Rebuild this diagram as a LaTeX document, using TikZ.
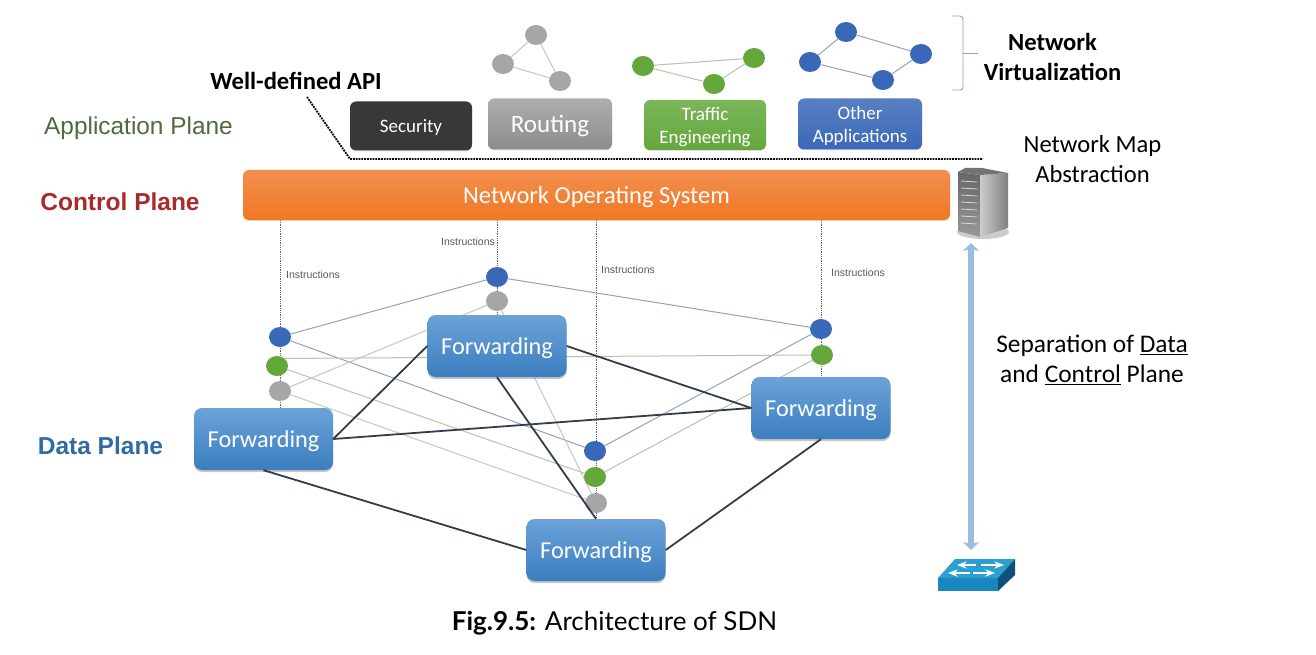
\documentclass[tikz,border=0pt]{standalone}
\usepackage{fontspec}
\setmainfont{Carlito}
\newfontfamily\arialfont{Liberation Sans}
\newfontfamily\capfont{Lato}
\usepackage{tikz}
\usetikzlibrary{arrows.meta}
\usetikzlibrary{backgrounds}
\usetikzlibrary{shadows}
\usetikzlibrary{shapes.geometric}
\newcommand{\fsize}[1]{\fontsize{#1}{#1}\selectfont}
\tikzstyle{appbox} = [rectangle, rounded corners=6pt, minimum height=50pt, align=center, text=white, inner sep=0pt, text depth=0pt, drop shadow={shadow xshift=0pt, shadow yshift=-1pt, opacity=0.25}]
\tikzstyle{fwdnode} = [rectangle, rounded corners=8pt, minimum width=139pt, minimum height=62pt, top color=blue1, bottom color=blue2, text=white, font=\fsize{24.3}, inner sep=0pt, text depth=0pt, drop shadow={shadow xshift=0pt, shadow yshift=-2pt, opacity=0.45}]
\tikzstyle{dotnode} = [ellipse, minimum width=22pt, minimum height=20pt, inner sep=0pt]
\tikzstyle{bluenode} = [dotnode, fill=dotblue]
\tikzstyle{greennode} = [dotnode, fill=dotgreen]
\tikzstyle{graynode} = [dotnode, fill=dotgray]
\tikzstyle{bluelink} = [draw=linkblue, line width=1pt]
\tikzstyle{greenlink} = [draw=linkgreen, line width=1pt]
\tikzstyle{graylink} = [draw=linkgray, line width=1pt]
\tikzstyle{datalink} = [draw=linkdark, line width=1.8pt]
\tikzstyle{instrline} = [draw=black!60, line width=0.8pt, densely dotted]
\tikzstyle{instrlabel} = [text=black!65, font=\arialfont\fsize{10.5}]
\tikzstyle{plainlabel} = [align=center, text=black, font=\fsize{24.6}]
\tikzstyle{boldlabel} = [align=center, text=black, font=\bfseries\fsize{24.6}]
\definecolor{blue1}{HTML}{6CA2D8}
\definecolor{blue2}{HTML}{3B7EBF}
\definecolor{dotblue}{HTML}{3A68B8}
\definecolor{dotgreen}{HTML}{64A83C}
\definecolor{dotgray}{HTML}{A6A6A6}
\definecolor{linkblue}{HTML}{93A0BE}
\definecolor{linkgreen}{HTML}{B7C2AA}
\definecolor{linkgray}{HTML}{C4C6C6}
\definecolor{linkdark}{HTML}{333D4A}
\definecolor{arrowblue}{HTML}{9DBDE0}
\definecolor{swtop}{HTML}{2A9FD0}
\definecolor{swfront}{HTML}{1A86BE}
\definecolor{swside}{HTML}{0F4F78}
\definecolor{nos1}{HTML}{F28F50}
\definecolor{nos2}{HTML}{F07822}
\definecolor{appgreen}{HTML}{4F6A3D}
\definecolor{ctlred}{HTML}{A82A2A}
\begin{document}
\begin{tikzpicture}[x=1pt, y=-1pt]
  \useasboundingbox (0,0) rectangle (1316,655);

  % application boxes
  \node[appbox, minimum width=122pt, minimum height=49pt, fill=black!78, font=\fsize{19}] (security) at (411,126) {Security};
  \node[appbox, minimum width=124pt, minimum height=51pt, top color=black!32, bottom color=black!45, font=\fsize{25}] (routing) at (550,124) {Routing};
  \node[appbox, minimum width=122pt, top color=dotgreen!85!white, bottom color=dotgreen, font=\fsize{19}] (traffic) at (705,125) {Traffic\\[4pt]Engineering};
  \node[appbox, minimum width=124pt, minimum height=51pt, top color=dotblue!85!white, bottom color=dotblue, font=\fsize{19}] (other) at (860,124) {Other\\[4pt]Applications};
  \node[appbox, minimum width=707pt, top color=nos1, bottom color=nos2, font=\fsize{24.5}] (nos) at (596.5,195) {Network Operating System};

  % virtual networks
  \node[graynode] (gray_a) at (536,35) {};
  \node[graynode] (gray_b) at (503,64) {};
  \node[graynode] (gray_c) at (560,81) {};
  \node[greennode] (green_a) at (643,66) {};
  \node[greennode] (green_b) at (754,58) {};
  \node[greennode] (green_c) at (714,84) {};
  \node[bluenode] (blue_a) at (846,32) {};
  \node[bluenode] (blue_b) at (921,54) {};
  \node[bluenode] (blue_c) at (883,80) {};
  \node[bluenode] (blue_d) at (810,62) {};

  % switches and their ports
  \node[fwdnode] (fwd_a) at (263.5,439) {Forwarding};
  \node[fwdnode] (fwd_b) at (497,346) {Forwarding};
  \node[fwdnode] (fwd_c) at (821,408) {Forwarding};
  \node[fwdnode] (fwd_d) at (596,550) {Forwarding};

  \node[bluenode] (b_a) at (280,337) {};
  \node[greennode] (g_a) at (277,366) {};
  \node[graynode] (a_a) at (280,391) {};
  \node[bluenode] (b_b) at (497,277) {};
  \node[graynode] (a_b) at (497,301) {};
  \node[bluenode] (b_c) at (821,329) {};
  \node[greennode] (g_c) at (822,355) {};
  \node[bluenode] (b_d) at (595,451) {};
  \node[greennode] (g_d) at (595,477) {};
  \node[graynode] (a_d) at (596,503) {};

  \begin{scope}[on background layer]
    \draw[instrline] (280,220) -- (fwd_a.north -| b_a);
    \draw[instrline] (497,220) -- (fwd_b.north);
    \draw[instrline] (596,220) -- (fwd_d.north);
    \draw[instrline] (821,220) -- (fwd_c.north);

    \draw[graylink] (gray_a) -- (gray_b);
    \draw[graylink] (gray_b) -- (gray_c);
    \draw[graylink] (gray_c) -- (gray_a);
    \draw[greenlink] (green_a) -- (green_b);
    \draw[greenlink] (green_b) -- (green_c);
    \draw[greenlink] (green_c) -- (green_a);
    \draw[bluelink] (blue_a) -- (blue_b);
    \draw[bluelink] (blue_b) -- (blue_c);
    \draw[bluelink] (blue_c) -- (blue_d);
    \draw[bluelink] (blue_d) -- (blue_a);

    \draw[bluelink] (b_a) -- (b_b);
    \draw[bluelink] (b_b) -- (b_c);
    \draw[bluelink] (b_a) -- (b_d);
    \draw[bluelink] (b_d) -- (b_c);
    \draw[greenlink] (g_a.45) -- (g_c.west);
    \draw[greenlink] (g_a) -- (g_d);
    \draw[greenlink] (g_d) -- (g_c);
    \draw[graylink] (a_a) -- (a_b);
    \draw[graylink] (a_a) -- (a_d);
    \draw[graylink] (a_b) -- (a_d);
  \end{scope}

  \draw[datalink] (fwd_a.east) -- (fwd_b.west);
  \draw[datalink] (fwd_a.east) -- (fwd_c.west);
  \draw[datalink] (fwd_a.south) -- (fwd_d.west);
  \draw[datalink] (fwd_b.east) -- (fwd_c.west);
  \draw[datalink] (fwd_b.south) -- (fwd_d.north);
  \draw[datalink] (fwd_d.east) -- (fwd_c.south);

  % instruction labels
  \node[instrlabel] (instr_a) at (313,275) {Instructions};
  \node[instrlabel] (instr_b) at (468,242) {Instructions};
  \node[instrlabel] (instr_c) at (628,270) {Instructions};
  \node[instrlabel] (instr_d) at (858,273) {Instructions};

  % API boundary
  \coordinate (api_a) at (307,97);
  \coordinate (api_b) at (350,159);
  \coordinate (api_c) at (983,159);
  \draw[line width=1.8pt, densely dotted] (api_a) -- (api_b) -- (api_c);
  \node[boldlabel] (api) at (296,81) {Well-defined API};

  % brace
  \coordinate (brace_a) at (952,16);
  \coordinate (brace_b) at (963,53);
  \coordinate (brace_c) at (952,90);
  \coordinate (brace_t) at (978,53);
  \draw[draw=linkblue, line width=0.9pt, rounded corners=3pt] (brace_a) -- (brace_a -| brace_b) -- (brace_c -| brace_b) -- (brace_c);
  \draw[draw=linkblue, line width=0.9pt] (brace_b) -- (brace_t);

  % plane names
  \node[text=appgreen, font=\arialfont\fsize{24.4}] (app_plane) at (138.5,128) {Application Plane};
  \node[text=ctlred, font=\arialfont\bfseries\fsize{24.5}] (ctl_plane) at (120,202) {Control Plane};
  \node[text=blue2!85!black, font=\arialfont\bfseries\fsize{24.5}] (data_plane) at (100.5,445.5) {Data Plane};

  \node[boldlabel] (virt) at (1052.5,57) {Network\\[4.5pt]Virtualization};
  \node[plainlabel] (map) at (1092.5,159) {Network Map\\[4.5pt]Abstraction};
  \node[plainlabel, font=\fsize{25.4}] (sep) at (1092,360) {Separation of \underline{Data}\\[4pt]and \underline{Control} Plane};

  % server
  \fill[black!40, opacity=0.5] (983,232) ellipse (26pt and 7pt);
  \shade[top color=black!60, bottom color=black!40] (958,172) -- (980,175) -- (980,237) -- (958,231) -- cycle;
  \shade[left color=black!20, right color=black!50] (980,175) -- (1008,173) -- (1008,228) -- (980,237) -- cycle;
  \fill[black!55] (958,172) -- (965,168) -- (982,168) -- (1008,173) -- (980,175) -- cycle;
  \foreach \y in {181,188,...,223} {
    \draw[black!15, line width=0.8pt] (961,\y) -- (977,\y+1);
  }
  \coordinate (server) at (971,243);

  % switch
  \fill[swtop] (938,578) -- (955,559) -- (1015,559) -- (998,578) -- cycle;
  \fill[swfront] (938,578) -- (998,578) -- (998,591) -- (938,591) -- cycle;
  \fill[swside] (998,578) -- (1015,559) -- (1015,575) -- (998,591) -- cycle;
  \draw[-Stealth, white, line width=1.5pt] (976,565) -- (957,565);
  \draw[-Stealth, white, line width=1.5pt] (981,565) -- (1004,565);
  \draw[-Stealth, white, line width=1.5pt] (970,573) -- (948,573);
  \draw[-Stealth, white, line width=1.5pt] (973,573) -- (995,573);
  \coordinate (switch) at (971,550);

  \draw[{Stealth[length=8pt, width=16pt, inset=2pt]}-{Stealth[length=8pt, width=16pt, inset=2pt]}, draw=arrowblue, line width=6.5pt] (server) -- (switch);

  \node[text=black, font=\capfont\fsize{26}] (caption) at (614.5,623) {\textbf{Fig.9.5:} Architecture of SDN};
\end{tikzpicture}
\end{document}
